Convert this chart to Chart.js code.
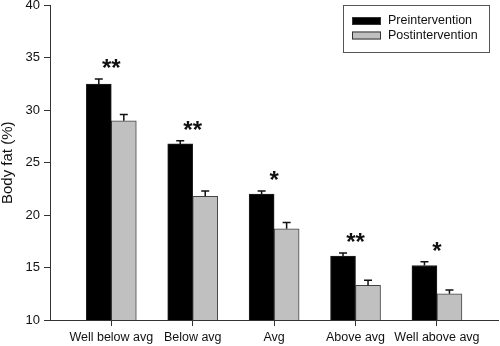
<!DOCTYPE html>
<html>
<head>
<meta charset="utf-8">
<script src="https://cdn.jsdelivr.net/npm/chart.js@4/dist/chart.umd.min.js"></script>
<style>
  html, body { margin: 0; padding: 0; background: #fff; }
  #wrap { width: 500px; height: 346px; }
</style>
</head>
<body>
<div id="wrap"><canvas id="fatChart" width="500" height="346"></canvas></div>
<script>
// data
const categories = ["Well below avg", "Below avg", "Avg", "Above avg", "Well above avg"];
const preValues = [32.5, 26.8, 22.0, 16.1, 15.2];
const preErr = [0.5, 0.3, 0.3, 0.3, 0.35];
const postValues = [29.0, 21.8, 18.7, 13.3, 12.5];
const postErr = [0.6, 0.5, 0.6, 0.5, 0.35];
const signif = ["**", "**", "*", "**", "*"];
const yTicks = [10, 15, 20, 25, 30, 35, 40];

const FONT = "'Liberation Sans', Arial, sans-serif";
const AXIS = "#333";

const toPoints = (vals) => vals.map((v, i) => ({ x: i, y: v }));

// error bars (upper half only) + asterisks
const extras = {
  id: "extras",
  afterDatasetsDraw(chart) {
    const ctx = chart.ctx;
    const y = chart.scales.y;
    const errs = [preErr, postErr];
    ctx.save();
    ctx.strokeStyle = "#111";
    ctx.lineWidth = 1.5;
    chart.data.datasets.forEach((ds, d) => {
      chart.getDatasetMeta(d).data.forEach((bar, i) => {
        const top = y.getPixelForValue(ds.data[i].y + errs[d][i]);
        ctx.beginPath();
        ctx.moveTo(bar.x, bar.y);
        ctx.lineTo(bar.x, top);
        ctx.moveTo(bar.x - 4, top);
        ctx.lineTo(bar.x + 4, top);
        ctx.stroke();
      });
    });
    ctx.fillStyle = "#111";
    ctx.font = "bold 24px " + FONT;
    ctx.textAlign = "center";
    ctx.textBaseline = "alphabetic";
    const xs = chart.scales.x;
    signif.forEach((s, i) => {
      const hi = Math.max(preValues[i] + preErr[i], postValues[i] + postErr[i]);
      const cy = y.getPixelForValue(hi) - 17;
      ctx.fillText(s, xs.getPixelForValue(i), cy + 14);
    });
    ctx.restore();
  },
};

// boxed legend in the top right
const boxLegend = {
  id: "boxLegend",
  afterDraw(chart) {
    const ctx = chart.ctx;
    const a = chart.chartArea;
    const bx = a.right - 155, by = 5;
    ctx.save();
    ctx.strokeStyle = "#555";
    ctx.lineWidth = 1;
    ctx.strokeRect(bx + 0.5, by + 0.5, 146, 47);
    ctx.font = "12.5px " + FONT;
    ctx.textBaseline = "middle";
    ctx.textAlign = "left";
    chart.data.datasets.forEach((ds, d) => {
      const ry = by + 12 + d * 14.5;
      ctx.fillStyle = ds.backgroundColor;
      ctx.fillRect(bx + 9, ry, 29, 8);
      ctx.strokeStyle = "#333";
      ctx.strokeRect(bx + 9.5, ry + 0.5, 28, 7);
      ctx.fillStyle = "#111";
      ctx.fillText(ds.label, bx + 45, ry + 4);
    });
    ctx.restore();
  },
};

new Chart(document.getElementById("fatChart"), {
  type: "bar",
  data: {
    datasets: [
      {
        label: "Preintervention",
        data: toPoints(preValues),
        backgroundColor: "#000",
        borderColor: "#222",
        borderWidth: 1,
        barThickness: 25,
      },
      {
        label: "Postintervention",
        data: toPoints(postValues),
        backgroundColor: "#c0c0c0",
        borderColor: "#444",
        borderWidth: 1,
        barThickness: 25,
      },
    ],
  },
  options: {
    responsive: false,
    animation: false,
    layout: { padding: { top: 0, right: 2, bottom: 0, left: 0 } },
    plugins: {
      legend: { display: false },
      tooltip: { enabled: false },
    },
    scales: {
      x: {
        type: "linear",
        offset: false,
        min: -0.753,
        max: 4.75,
        afterBuildTicks: (s) => {
          s.ticks = categories.map((_, i) => ({ value: i }));
        },
        afterFit: (s) => {
          s.height = 26;
        },
        grid: { offset: false, drawOnChartArea: false, drawTicks: true, tickLength: 6, color: AXIS },
        border: { display: true, color: AXIS, width: 1 },
        ticks: {
          padding: 4,
          autoSkip: false,
          maxRotation: 0,
          color: "#111",
          font: { family: FONT, size: 12.5 },
          callback: (v) => categories[v],
        },
      },
      y: {
        min: 10,
        max: 40,
        afterBuildTicks: (s) => {
          s.ticks = yTicks.map((v) => ({ value: v }));
        },
        afterFit: (s) => {
          s.width = 50;
          s.paddingTop = 5.5;
          s.paddingBottom = 0;
        },
        grid: { drawOnChartArea: false, drawTicks: true, tickLength: 6, color: AXIS },
        border: { display: true, color: AXIS, width: 1 },
        ticks: {
          padding: 4,
          color: "#111",
          font: { family: FONT, size: 13 },
        },
        title: {
          display: true,
          text: "Body fat (%)",
          color: "#111",
          font: { family: FONT, size: 15, lineHeight: 1 },
          padding: { top: 0, bottom: 0 },
        },
      },
    },
  },
  plugins: [extras, boxLegend],
});
</script>
</body>
</html>
